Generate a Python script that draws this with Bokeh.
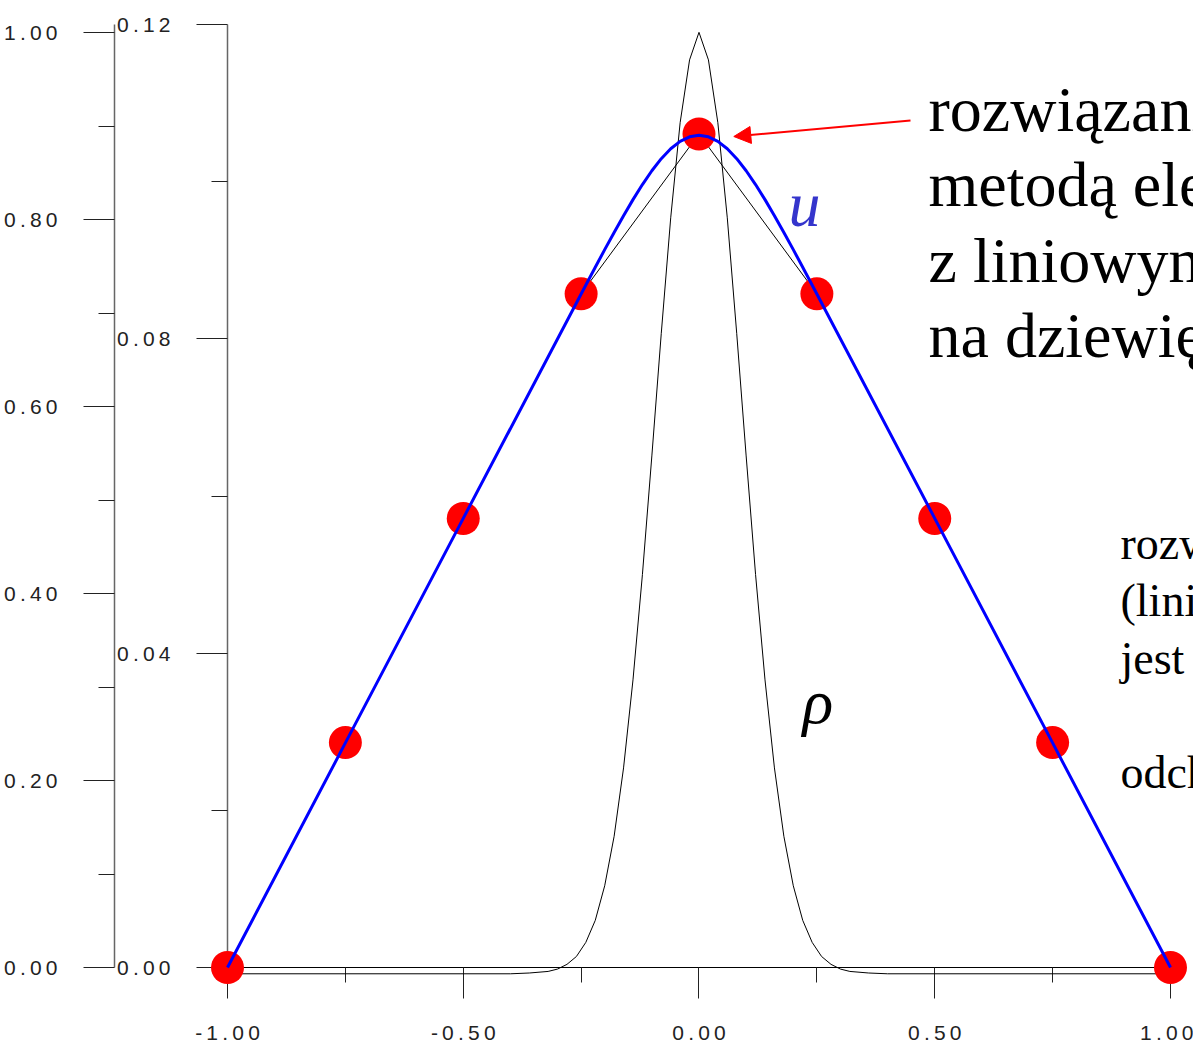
from bokeh.plotting import figure
from bokeh.models import Range1d, LinearAxis, FixedTicker, Arrow, NormalHead, CustomJSTickFormatter
from bokeh.embed import file_html
from bokeh.resources import INLINE
from bokeh.core.properties import value

# finite-element nodes and nodal values of the solution
x_nodes = [-1.0, -0.75, -0.5, -0.25, 0.0, 0.25, 0.5, 0.75, 1.0]
u_nodes = [0.0, 0.2406, 0.4802, 0.7205, 0.8915, 0.7205, 0.4802, 0.2406, 0.0]

# exact solution u(x)
x_exact = [-1.0, -0.75, -0.5, -0.25, -0.22, -0.2, -0.18, -0.16, -0.14, -0.12, -0.1,
           -0.08, -0.06, -0.04, -0.02, 0.0, 0.02, 0.04, 0.06, 0.08, 0.1, 0.12,
           0.14, 0.16, 0.18, 0.2, 0.22, 0.25, 0.5, 0.75, 1.0]
u_exact = [0.0, 0.2402, 0.4804, 0.7204, 0.7490, 0.7678, 0.7862, 0.8041, 0.8213, 0.8374, 0.8522,
           0.8651, 0.8757, 0.8836, 0.8885, 0.8902, 0.8885, 0.8836, 0.8757, 0.8651, 0.8522, 0.8374,
           0.8213, 0.8041, 0.7862, 0.7678, 0.7490, 0.7204, 0.4804, 0.2402, 0.0]

# charge density rho(x)
x_rho = [-1.0, -0.4, -0.36, -0.32, -0.3, -0.28, -0.26, -0.24, -0.22, -0.2, -0.18, -0.16,
         -0.14, -0.12, -0.1, -0.08, -0.06, -0.04, -0.02, 0.0, 0.02, 0.04, 0.06, 0.08,
         0.1, 0.12, 0.14, 0.16, 0.18, 0.2, 0.22, 0.24, 0.26, 0.28, 0.3, 0.32, 0.36, 0.4, 1.0]
rho = [-0.0008, -0.0008, -0.0007, -0.0005, -0.0002, 0.0004, 0.0014, 0.0032, 0.0060, 0.0104,
       0.0167, 0.0254, 0.0366, 0.0500, 0.0651, 0.0807, 0.0954, 0.1075, 0.1155, 0.1190,
       0.1155, 0.1075, 0.0954, 0.0807, 0.0651, 0.0500, 0.0366, 0.0254, 0.0167, 0.0104,
       0.0060, 0.0032, 0.0014, 0.0004, -0.0002, -0.0005, -0.0007, -0.0008, -0.0008]

x_ticks = [-1.0, -0.5, 0.0, 0.5, 1.0]
x_minor = [-0.75, -0.25, 0.25, 0.75]
u_ticks = [0.0, 0.2, 0.4, 0.6, 0.8, 1.0]
u_minor = [0.1, 0.3, 0.5, 0.7, 0.9]
rho_ticks = [0.0, 0.04, 0.08, 0.12]
rho_minor = [0.02, 0.06, 0.1]

caption_main = ["rozwiązanie", "metodą elementów skończonych", "z liniowymi funkcjami kształtu",
                "na dziewięciu węzłach"]
caption_side = ["rozwiązanie dokładne", "(liniowe poza ładunkiem)", "jest gładkie", "",
                "odchylenie niewielkie"]

FRAME_H = 943
U_END = 1.0086
PX = U_END / FRAME_H          # one pixel in u units


def lift(font_px):
    # raise a text anchor so that its baseline sits where intended
    return 0.36 * font_px * PX


TICK_FONT = "'Liberation Sans', Arial, sans-serif"
spaced = CustomJSTickFormatter(code="return tick.toFixed(2).split('').join('\\u2009')")

p = figure(frame_width=966, frame_height=FRAME_H,
           x_range=Range1d(-1.0, 1.0488), y_range=Range1d(0.0, U_END),
           min_border_left=227, min_border_right=0, min_border_top=24, min_border_bottom=79,
           y_axis_location=None, output_backend="svg", toolbar_location=None)
p.extra_y_ranges = {"rho": Range1d(0.0, 0.12)}
p.grid.visible = False
p.outline_line_color = None
p.background_fill_color = "white"
p.border_fill_color = "white"


def style_axis(ax, line_color, line_width, minor_out):
    ax.axis_line_color = line_color
    ax.axis_line_width = line_width
    ax.major_tick_line_color = "#222222"
    ax.minor_tick_line_color = "#222222"
    ax.major_tick_in = 0
    ax.major_tick_out = 31
    ax.minor_tick_in = 0
    ax.minor_tick_out = minor_out
    ax.major_label_text_font = TICK_FONT
    ax.major_label_text_font_size = "21px"
    ax.major_label_text_color = "#222222"
    ax.formatter = spaced


rho_axis = LinearAxis(y_range_name="rho",
                      ticker=FixedTicker(ticks=rho_ticks, minor_ticks=rho_minor))
style_axis(rho_axis, "#666666", 1.5, 16)
rho_axis.major_label_standoff = 26
p.add_layout(rho_axis, "left")

u_axis = LinearAxis(ticker=FixedTicker(ticks=u_ticks, minor_ticks=u_minor))
style_axis(u_axis, "#666666", 1.5, 16)
u_axis.major_label_standoff = 26
p.add_layout(u_axis, "left")

xa = p.xaxis[0]
xa.ticker = FixedTicker(ticks=x_ticks, minor_ticks=x_minor)
xa.bounds = (-1.0, 1.0)
style_axis(xa, "black", 1, 15)
xa.major_label_standoff = 22

# charge density, FEM interpolant, nodal values, exact solution
p.line(x_rho, rho, y_range_name="rho", line_color="black", line_width=1, level="overlay")
p.line(x_nodes, u_nodes, line_color="black", line_width=1)
p.scatter(x_nodes, u_nodes, size=33, fill_color="#ff0000", line_color=None, level="overlay")
p.line(x_exact, u_exact, line_color="#0000ff", line_width=3, level="overlay")

# labels of the curves
p.text(x=[0.19], y=[0.791 + lift(64)], text=["u"], text_font=value("Liberation Serif"),
       text_font_style="italic", text_font_size="64px", text_color="#3535cc",
       text_baseline="alphabetic")
p.text(x=[0.2195], y=[0.26 + lift(64)], text=["ρ"], text_font=value("Liberation Serif"),
       text_font_style="italic", text_font_size="64px", text_color="black",
       text_baseline="alphabetic")

# description of the FEM solution, with an arrow to the central node
main_x = 0.4867
main_y = [0.893 - i * 0.0805 + lift(64) for i in range(len(caption_main))]
p.text(x=[main_x] * len(caption_main), y=main_y, text=caption_main,
       text_font=value("Liberation Serif"), text_font_size="64px", text_color="black",
       text_baseline="alphabetic")
p.add_layout(Arrow(end=NormalHead(size=17, fill_color="red", line_color="red"),
                   x_start=0.4486, y_start=0.9059, x_end=0.0738, y_end=0.8888,
                   line_color="red", line_width=2))

side_x = 0.894
side_y = [0.4353 - i * 0.061 + lift(46) for i in range(len(caption_side))]
p.text(x=[side_x] * len(caption_side), y=side_y, text=caption_side,
       text_font=value("Liberation Serif"), text_font_size="46px", text_color="black",
       text_baseline="alphabetic")

open("out.html", "w").write(file_html(p, INLINE))
